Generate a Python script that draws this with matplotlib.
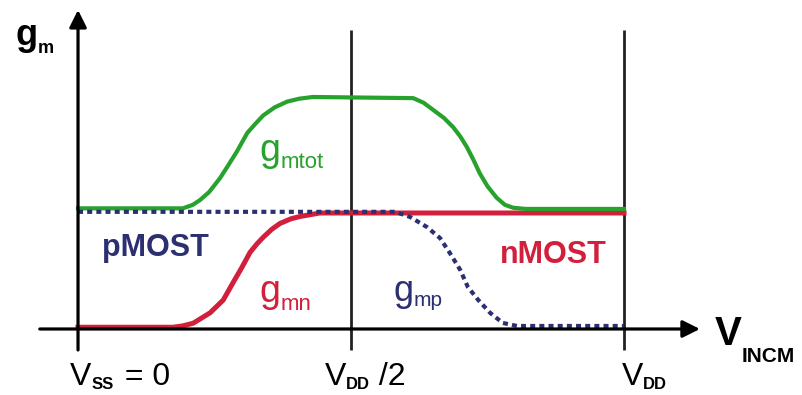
import matplotlib
matplotlib.use("Agg")
import matplotlib.pyplot as plt

plt.rcParams['font.family'] = ['Liberation Sans', 'DejaVu Sans']

# x: 0 = Vss, 0.5 = VDD/2, 1 = VDD ; y: gm in units of one transistor's gm
gmn_x = [0.0, 0.174, 0.192, 0.211, 0.242, 0.266, 0.284, 0.300, 0.315, 0.327, 0.339,
         0.355, 0.370, 0.390, 0.407, 0.443, 1.0]
gmn_y = [0.015, 0.015, 0.027, 0.05, 0.14, 0.25, 0.40, 0.53, 0.66, 0.73, 0.79,
         0.86, 0.91, 0.95, 0.97, 1.0, 1.0]

gmp_x = [0.0, 0.581, 0.608, 0.639, 0.663, 0.681, 0.700, 0.714, 0.733, 0.755, 0.778, 0.804, 1.0]
gmp_y = [1.01, 1.01, 0.966, 0.879, 0.784, 0.655, 0.509, 0.362, 0.25, 0.138, 0.052, 0.026, 0.026]

gmtot_x = [0.0, 0.192, 0.210, 0.223, 0.240, 0.260, 0.275, 0.291, 0.310, 0.325, 0.339,
           0.360, 0.383, 0.405, 0.430, 0.614, 0.633, 0.650, 0.670, 0.687, 0.700,
           0.712, 0.724, 0.736, 0.750, 0.767, 0.782, 0.797, 0.820, 1.0]
gmtot_y = [1.04, 1.04, 1.07, 1.11, 1.18, 1.30, 1.41, 1.53, 1.69, 1.77, 1.84,
           1.91, 1.96, 1.985, 2.0, 1.99, 1.95, 1.89, 1.82, 1.74, 1.66,
           1.57, 1.46, 1.34, 1.23, 1.13, 1.07, 1.045, 1.035, 1.035]

marks_x = [0.5, 1.0]   # VDD/2 and VDD

GREEN = '#27a22d'
RED = '#d2203c'
NAVY = '#2c2f70'

fig = plt.figure(figsize=(8.03, 3.95), dpi=100)
ax = fig.add_axes([0, 0, 1, 1])
ax.set_xlim(-0.1429, 1.3278)
ax.set_ylim(-0.569, 2.836)
ax.axis('off')

# axes with arrows
arrow = dict(arrowstyle='-|>', lw=2.3, color='black', mutation_scale=26,
             shrinkA=0, shrinkB=0)
ax.annotate('', xy=(1.139, 0), xytext=(-0.07, 0), arrowprops=arrow)
ax.annotate('', xy=(0, 2.75), xytext=(0, -0.181), arrowprops=arrow)
for xv in marks_x:
    ax.plot([xv, xv], [-0.181, 2.578], color='#222222', lw=2.0, solid_capstyle='butt')

ax.plot(gmn_x, gmn_y, color=RED, lw=3.6, solid_joinstyle='round')
ax.plot(gmtot_x, gmtot_y, color=GREEN, lw=3.0, solid_joinstyle='round')
ax.plot(gmp_x, gmp_y, color=NAVY, lw=3.0, linestyle=(0, (1.2, 1.0)))

renderer = fig.canvas.get_renderer()


def sub_label(x, y, main, sub, color, size, sub_size, drop, weight='normal',
              sub_weight='normal', tail=None, gap=0):
    t = ax.text(x, y, main, color=color, fontsize=size, fontweight=weight,
                ha='left', va='baseline')
    w = t.get_window_extent(renderer).width
    s = ax.annotate(sub, xy=(x, y), xytext=(w, -drop), textcoords='offset pixels',
                    color=color, fontsize=sub_size, fontweight=sub_weight,
                    ha='left', va='baseline')
    if tail:
        w2 = s.get_window_extent(renderer).width
        ax.annotate(tail, xy=(x, y), xytext=(w + w2 + gap, 0), textcoords='offset pixels',
                    color=color, fontsize=size, fontweight=weight,
                    ha='left', va='baseline')


sub_label(-0.115, 2.448, 'g', 'm', 'black', 26, 13, 8, weight='bold', sub_weight='bold')
sub_label(0.333, 1.448, 'g', 'mtot', GREEN, 27, 16, 7)
sub_label(0.333, 0.233, 'g', 'mn', RED, 27, 16, 8)
sub_label(0.577, 0.241, 'g', 'mp', NAVY, 26, 15, 5)

ax.text(0.044, 0.629, 'pMOST', color=NAVY, fontsize=22, fontweight='bold',
        ha='left', va='baseline')
ax.text(0.773, 0.569, 'nMOST', color=RED, fontsize=22, fontweight='bold',
        ha='left', va='baseline')

sub_label(-0.0147, -0.483, 'V', 'SS', 'black', 23, 12, 4, sub_weight='bold',
          tail=' = 0', gap=2)
sub_label(0.452, -0.483, 'V', 'DD', 'black', 23, 12, 4, sub_weight='bold',
          tail=' /2', gap=0)
sub_label(0.996, -0.483, 'V', 'DD', 'black', 23, 12, 4, sub_weight='bold')
sub_label(1.167, -0.138, 'V', 'INCM', 'black', 29, 15, 17, weight='bold', sub_weight='bold')

fig.savefig('out.png', dpi=100, facecolor='white')
